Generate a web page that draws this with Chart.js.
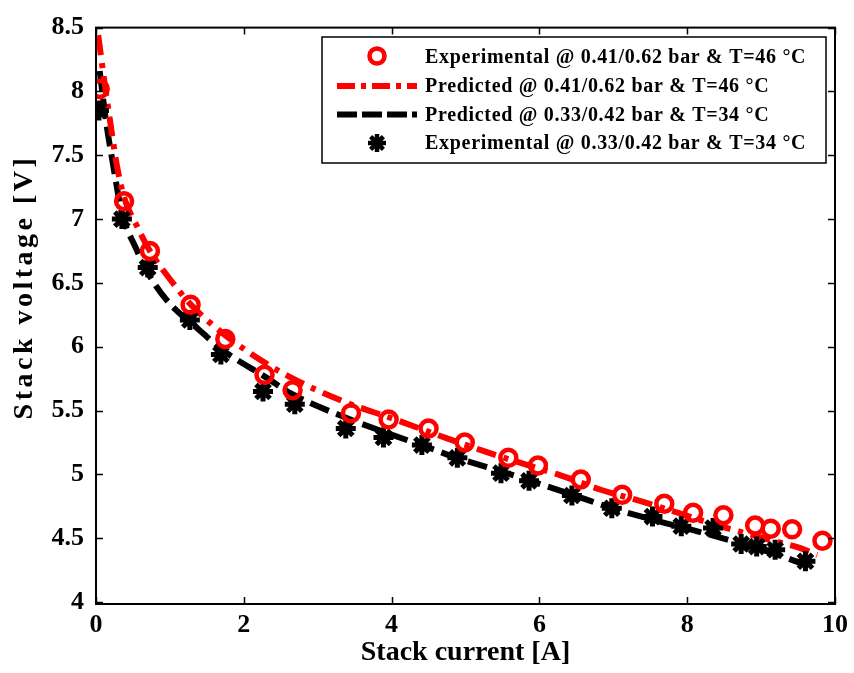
<!DOCTYPE html>
<html>
<head>
<meta charset="utf-8">
<script src="https://cdn.jsdelivr.net/npm/chart.js@4.4.1/dist/chart.umd.min.js"></script>
<style>
html,body{margin:0;padding:0;background:#fff;}
canvas{display:block;}
</style>
</head>
<body>
<canvas id="c" width="854" height="673" style="width:854px;height:673px"></canvas>
<script>
// ---- data ----
const expHighX = [0.05,0.38,0.73,1.28,1.75,2.28,2.66,3.45,3.96,4.50,4.99,5.58,5.98,6.56,7.12,7.69,8.08,8.49,8.92,9.13,9.42,9.83];
const expHighY = [8.02,7.14,6.75,6.33,6.06,5.78,5.66,5.48,5.43,5.36,5.25,5.13,5.07,4.96,4.84,4.77,4.70,4.68,4.60,4.575,4.57,4.48];

const predHighX = [0.03,0.12,0.19,0.28,0.38,0.55,0.73,1.04,1.3,1.75,2.3,2.7,3.4,4.0,4.76,5.21,5.8,6.25,6.83,7.37,7.87,8.36,8.72,9.1,9.49,9.76];
const predHighY = [8.44,8.05,7.77,7.43,7.17,6.95,6.75,6.50,6.32,6.09,5.87,5.74,5.56,5.44,5.28,5.19,5.08,5.00,4.88,4.79,4.70,4.61,4.55,4.49,4.43,4.37];

const predLowX = [0.05,0.14,0.23,0.35,0.55,0.68,0.95,1.4,1.7,2.3,2.65,3.4,3.96,4.5,4.88,5.5,5.98,6.5,6.96,7.5,8.04,8.6,9.12,9.66];
const predLowY = [8.16,7.75,7.43,7.05,6.76,6.60,6.37,6.13,5.98,5.76,5.63,5.44,5.32,5.21,5.13,5.02,4.93,4.83,4.74,4.65,4.57,4.48,4.39,4.28];

const expLowX = [0.04,0.35,0.70,1.27,1.69,2.26,2.69,3.38,3.89,4.41,4.89,5.48,5.86,6.44,6.98,7.53,7.92,8.35,8.73,8.94,9.19,9.60];
const expLowY = [7.85,7.00,6.62,6.21,5.94,5.65,5.55,5.36,5.29,5.23,5.13,5.01,4.95,4.835,4.735,4.67,4.595,4.58,4.455,4.435,4.41,4.32];

const xTicks = [0,2,4,6,8,10];
const yTicks = [4,4.5,5,5.5,6,6.5,7,7.5,8,8.5];

const legendLabels = [
  'Experimental @ 0.41/0.62 bar & T=46 °C',
  'Predicted @ 0.41/0.62 bar & T=46 °C',
  'Predicted @ 0.33/0.42 bar & T=34 °C',
  'Experimental @ 0.33/0.42 bar & T=34 °C'
];
const xTitle = 'Stack current [A]';
const yTitle = 'Stack voltage [V]';

// ---- build chart ----
const FONT = '"Liberation Serif", "Times New Roman", serif';
const pts = (xs, ys) => xs.map((x, i) => ({x: x, y: ys[i]}));

const RED = '#ff0000', BLACK = '#000000';

const frameAndTicks = {
  id: 'frameAndTicks',
  afterDatasetsDraw(chart) {
    const {ctx, chartArea: a, scales} = chart;
    ctx.save();
    ctx.strokeStyle = '#000';
    ctx.lineWidth = 1.5;
    const tl = 7;
    ctx.beginPath();
    xTicks.forEach(v => {
      const px = Math.round(scales.x.getPixelForValue(v)) + 0.5;
      ctx.moveTo(px, a.bottom); ctx.lineTo(px, a.bottom - tl);
      ctx.moveTo(px, a.top); ctx.lineTo(px, a.top + tl);
    });
    yTicks.forEach(v => {
      const py = Math.round(scales.y.getPixelForValue(v)) + 0.5;
      ctx.moveTo(a.left, py); ctx.lineTo(a.left + tl, py);
      ctx.moveTo(a.right, py); ctx.lineTo(a.right - tl, py);
    });
    ctx.stroke();
    ctx.lineWidth = 2;
    ctx.strokeRect(a.left, a.top, a.right - a.left, a.bottom - a.top);
    ctx.restore();
  },
  afterDraw(chart) {
    const ctx = chart.ctx;
    // y axis title with letter spacing
    ctx.save();
    ctx.fillStyle = '#000';
    ctx.font = 'bold 28px ' + FONT;
    try { ctx.letterSpacing = '3.5px'; } catch (e) {}
    ctx.translate(25, 287);
    ctx.rotate(-Math.PI / 2);
    ctx.textAlign = 'center';
    ctx.textBaseline = 'middle';
    ctx.fillText(yTitle, 0, 0);
    ctx.restore();

    // legend box
    const bx = 322, by = 37, bw = 504, bh = 126;
    ctx.save();
    ctx.fillStyle = '#fff';
    ctx.fillRect(bx, by, bw, bh);
    ctx.strokeStyle = '#000';
    ctx.lineWidth = 1.5;
    ctx.strokeRect(bx, by, bw, bh);
    const rows = [57, 86, 114.5, 143];
    const sx0 = 337, sx1 = 417, sc = 377;
    // row 1: red circle
    ctx.strokeStyle = RED; ctx.lineWidth = 4.5;
    ctx.beginPath(); ctx.arc(sc, rows[0] - 1, 7.5, 0, Math.PI * 2); ctx.stroke();
    // row 2: red dash-dot
    ctx.lineWidth = 6; ctx.setLineDash([18, 6, 5, 6]);
    ctx.beginPath(); ctx.moveTo(sx0, rows[1]); ctx.lineTo(sx1, rows[1]); ctx.stroke();
    // row 3: black dashed
    ctx.strokeStyle = BLACK; ctx.setLineDash([20, 5]);
    ctx.beginPath(); ctx.moveTo(sx0, rows[2]); ctx.lineTo(sx1, rows[2]); ctx.stroke();
    ctx.setLineDash([]);
    // row 4: star
    ctx.lineWidth = 4.5; ctx.beginPath();
    const r = 9;
    for (let k = 0; k < 4; k++) {
      const ang = k * Math.PI / 4;
      ctx.moveTo(sc - r * Math.cos(ang), rows[3] - r * Math.sin(ang));
      ctx.lineTo(sc + r * Math.cos(ang), rows[3] + r * Math.sin(ang));
    }
    ctx.stroke();
    // labels
    ctx.fillStyle = '#000';
    ctx.font = 'bold 20px ' + FONT;
    try { ctx.letterSpacing = '0.7px'; } catch (e) {}
    ctx.textAlign = 'left';
    ctx.textBaseline = 'middle';
    legendLabels.forEach((t, i) => ctx.fillText(t, 425, rows[i] + 1));
    ctx.restore();
  }
};

new Chart(document.getElementById('c'), {
  type: 'scatter',
  data: {
    datasets: [
      {
        label: legendLabels[0],
        data: pts(expHighX, expHighY),
        showLine: false,
        pointStyle: 'circle',
        pointRadius: 8,
        pointBorderWidth: 4.5,
        borderColor: RED,
        backgroundColor: 'rgba(0,0,0,0)',
        order: 1
      },
      {
        label: legendLabels[1],
        data: pts(predHighX, predHighY),
        showLine: true,
        borderColor: RED,
        borderWidth: 6,
        borderDash: [20, 8, 5, 8],
        pointRadius: 0,
        cubicInterpolationMode: 'monotone',
        order: 3
      },
      {
        label: legendLabels[2],
        data: pts(predLowX, predLowY),
        showLine: true,
        borderColor: BLACK,
        borderWidth: 6,
        borderDash: [20, 8],
        pointRadius: 0,
        cubicInterpolationMode: 'monotone',
        order: 4
      },
      {
        label: legendLabels[3],
        data: pts(expLowX, expLowY),
        showLine: false,
        pointStyle: 'star',
        pointRadius: 10,
        pointBorderWidth: 5,
        borderColor: BLACK,
        backgroundColor: BLACK,
        order: 2
      }
    ]
  },
  options: {
    responsive: false,
    animation: false,
    devicePixelRatio: 1,
    layout: {padding: {top: 23, right: 15, left: 0, bottom: 0}},
    plugins: {legend: {display: false}, tooltip: {enabled: false}},
    scales: {
      x: {
        type: 'linear', min: 0, max: 10,
        afterBuildTicks: s => { s.ticks = xTicks.map(v => ({value: v})); },
        afterFit: s => { s.height = 69; },
        grid: {display: false, drawTicks: false},
        border: {display: false},
        ticks: {color: '#000', padding: 6, maxRotation: 0, callback: v => String(v), font: {family: FONT, size: 26, weight: 'bold'}},
        title: {display: true, text: xTitle, color: '#000', padding: {top: 0, bottom: 3}, font: {family: FONT, size: 28, weight: 'bold'}}
      },
      y: {
        type: 'linear', min: 3.985, max: 8.5,
        afterBuildTicks: s => { s.ticks = yTicks.map(v => ({value: v})); },
        afterFit: s => { s.width = 96; },
        grid: {display: false, drawTicks: false},
        border: {display: false},
        ticks: {color: '#000', padding: 12, callback: v => String(v), font: {family: FONT, size: 26, weight: 'bold'}},
        title: {display: false}
      }
    }
  },
  plugins: [frameAndTicks]
});
</script>
</body>
</html>
